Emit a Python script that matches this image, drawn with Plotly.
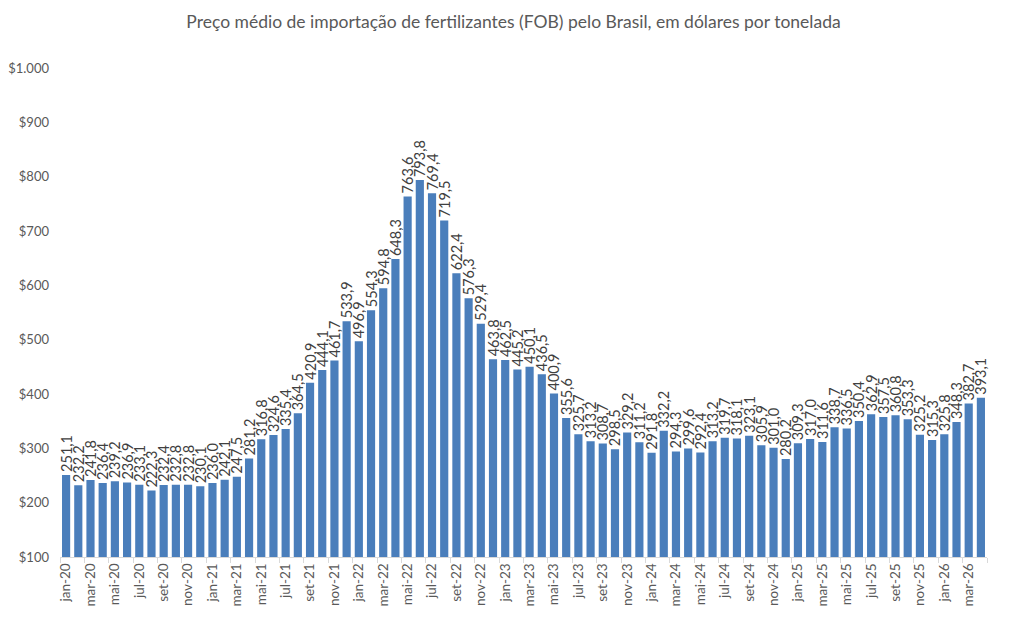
import plotly.graph_objects as go

# monthly average import price of fertilizers (FOB), US$/t
meses = ["jan", "fev", "mar", "abr", "mai", "jun", "jul", "ago", "set", "out", "nov", "dez"]
anos = ["20", "21", "22", "23", "24", "25", "26"]

preco_2020 = [251.1, 232.2, 241.8, 236.4, 239.2, 236.9, 233.1, 222.3, 232.4, 232.8, 232.8, 230.1]
preco_2021 = [236.0, 242.1, 247.5, 281.2, 316.8, 324.6, 335.4, 364.5, 420.9, 444.1, 461.7, 533.9]
preco_2022 = [496.9, 554.3, 594.8, 648.3, 763.6, 793.8, 769.4, 719.5, 622.4, 576.3, 529.4, 463.8]
preco_2023 = [462.5, 445.2, 450.1, 436.5, 400.9, 355.6, 325.7, 313.2, 308.7, 298.5, 329.2, 311.2]
preco_2024 = [291.8, 332.2, 294.3, 299.6, 292.4, 313.2, 319.7, 318.1, 323.1, 305.9, 301.0, 280.2]
preco_2025 = [309.3, 317.0, 311.6, 338.7, 336.5, 350.4, 362.9, 357.5, 360.8, 353.3, 325.2, 315.3]
preco_2026 = [325.8, 348.3, 382.7, 393.1]

precos = preco_2020 + preco_2021 + preco_2022 + preco_2023 + preco_2024 + preco_2025 + preco_2026
rotulos = [f"{m}-{a}" for a in anos for m in meses][:len(precos)]

FONT = "Lato, 'Open Sans', sans-serif"
GRAY = "#595959"

fig = go.Figure(go.Bar(
    x=rotulos,
    y=precos,
    marker=dict(color="#4A7EBB", line=dict(width=0)),
    texttemplate="%{y:.1f}",
    textposition="outside",
    textangle=-90,
    constraintext="none",
    cliponaxis=False,
    textfont=dict(family=FONT, size=14.5, color="#404040"),
))

fig.update_layout(
    width=1011, height=629,
    paper_bgcolor="white", plot_bgcolor="white",
    separators=",.",
    margin=dict(l=52, r=32, t=60, b=80),
    bargap=0.33,
    showlegend=False,
    title=dict(
        text="Preço médio de importação de fertilizantes (FOB) pelo Brasil, em dólares por tonelada",
        x=0.5, xanchor="center", y=1 - 14 / 629, yanchor="middle",
        font=dict(family=FONT, size=17.5, color=GRAY),
    ),
    font=dict(family=FONT, color=GRAY),
)

fig.update_xaxes(
    type="category",
    tickmode="linear", dtick=2,
    tickangle=-90,
    tickson="boundaries",
    ticks="outside", ticklen=5, tickcolor="#d9d9d9",
    showline=True, linecolor="#d9d9d9", linewidth=1,
    showgrid=False,
    tickfont=dict(family=FONT, size=13.5, color=GRAY),
)

fig.update_yaxes(
    range=[100, 1000],
    dtick=100,
    tickprefix="$", tickformat=",d",
    ticklabelstandoff=10,
    automargin=False,
    showgrid=False, zeroline=False, showline=False,
    tickfont=dict(family=FONT, size=13, color=GRAY),
)

fig.write_html("out.html")
